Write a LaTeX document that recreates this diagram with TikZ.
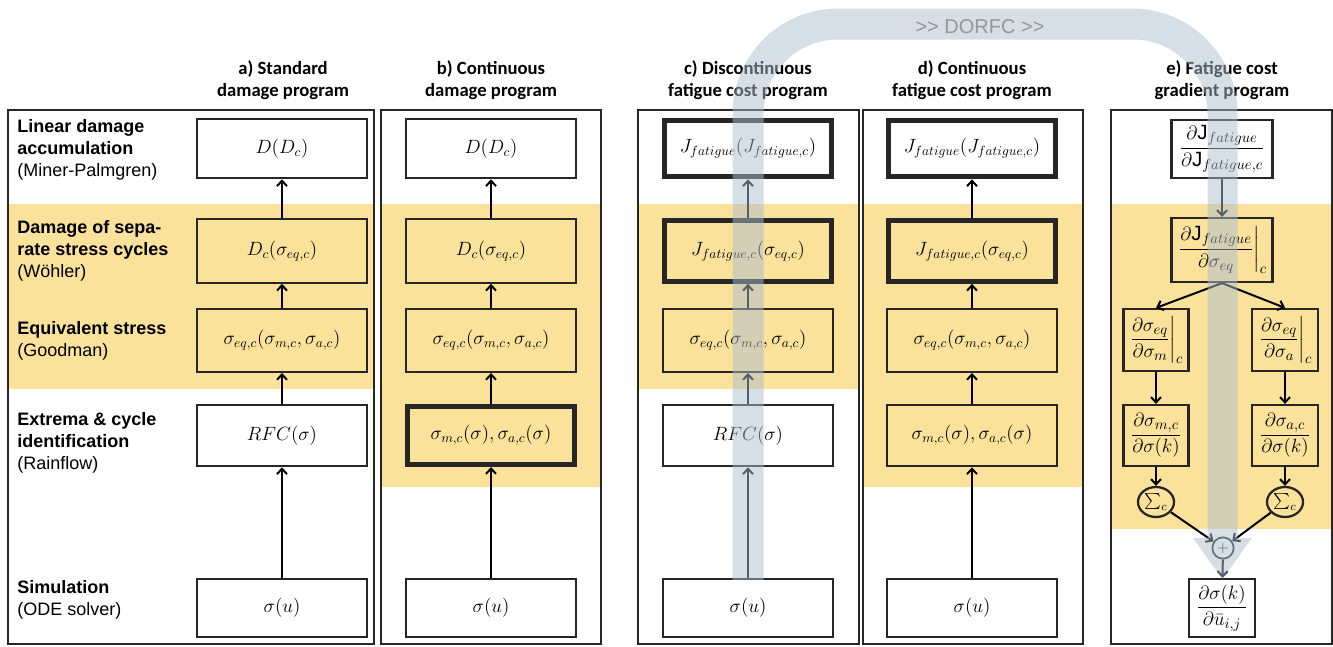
\documentclass[tikz,border=0pt]{standalone}
\usepackage{amsmath}
\usepackage{fontspec}
\setmainfont{Liberation Sans}
\newfontfamily\hdrfont{Carlito}
\usetikzlibrary{arrows.meta,shapes.geometric}
\definecolor{ylw}{RGB}{250,226,155}
\definecolor{bandc}{RGB}{173,189,205}
\definecolor{dorfcc}{RGB}{150,150,150}
\begin{document}
\begin{tikzpicture}[x=0.75pt,y=-0.75pt,
  frame/.style={draw=black!85, line width=1.1pt},
  bx/.style={draw=black!85, line width=1.7pt, inner sep=0pt, font=\fontsize{14}{17}\selectfont},
  bxt/.style={bx, line width=3.8pt},
  wa/.style={minimum width=127.5pt},
  wt/.style={minimum width=125pt},
  arr/.style={draw=black, line width=1.5pt, -{Straight Barb[length=4pt,width=7.5pt]}},
  hdr/.style={font=\hdrfont\bfseries\fontsize{14}{16.5}\selectfont, align=center},
  lbl/.style={font=\fontsize{13.5}{16.5}\selectfont, align=left, anchor=west, inner sep=0pt},
  fr/.style={bx, font=\fontsize{15.5}{18}\selectfont},
  sumnode/.style={bx, ellipse, inner sep=0pt, minimum width=27pt, minimum height=22.5pt, font=\fontsize{13}{15}\selectfont}
]
\useasboundingbox (0,0) rectangle (1333,646);
% yellow bands
\fill[ylw] (8,204) rectangle (374,389);
\fill[ylw] (381,204) rectangle (601,487);
\fill[ylw] (638,204) rectangle (859,389);
\fill[ylw] (863,204) rectangle (1083,487);
\fill[ylw] (1111,204) rectangle (1332,529);
% panel frames
\draw[frame] (8,110) rectangle (374,644);
\draw[frame] (381,110) rectangle (601,644);
\draw[frame] (638,110) rectangle (859,644);
\draw[frame] (863,110) rectangle (1083,644);
\draw[frame] (1111,110) rectangle (1332,644);
% headers
\node[hdr] (ha) at (283,80) {a) Standard\\damage program};
\node[hdr] (hb) at (491,80) {b) Continuous\\damage program};
\node[hdr] (hc) at (748,80) {c) Discontinuous\\fatigue cost program};
\node[hdr] (hd) at (972,80) {d) Continuous\\fatigue cost program};
\node[hdr] (he) at (1222,80) {e) Fatigue cost\\gradient program};
% left labels
\node[lbl] (l1) at (17,150) {\textbf{Linear damage}\\\textbf{accumulation}\\(Miner-Palmgren)};
\node[lbl] (l2) at (17,251) {\textbf{Damage of sepa-}\\\textbf{rate stress cycles}\\(Wöhler)};
\node[lbl] (l3) at (17,341) {\textbf{Equivalent stress}\\(Goodman)};
\node[lbl] (l4) at (17,443) {\textbf{Extrema \& cycle}\\\textbf{identification}\\(Rainflow)};
\node[lbl] (l5) at (17,600) {\textbf{Simulation}\\(ODE solver)};
% panel a
\node[bx,wa,minimum height=44.5pt] (aD) at (282,148.5) {$D(D_c)$};
\node[bx,wa,minimum height=47.5pt] (aDc) at (282,251) {$D_c(\sigma_{eq,c})$};
\node[bx,wa,minimum height=47pt] (aEq) at (282,340.5) {$\sigma_{eq,c}(\sigma_{m,c},\sigma_{a,c})$};
\node[bx,wa,minimum height=46pt] (aRFC) at (282,435.5) {$RFC(\sigma)$};
\node[bx,wa,minimum height=43.5pt] (aSig) at (282,608) {$\sigma(u)$};
\draw[arr] (aSig) -- (aRFC);
\draw[arr] (aRFC) -- (aEq);
\draw[arr] (aEq) -- (aDc);
\draw[arr] (aDc) -- (aD);
% panel b
\node[bx,wa,minimum height=44.5pt] (bD) at (491,148.5) {$D(D_c)$};
\node[bx,wa,minimum height=47.5pt] (bDc) at (491,251) {$D_c(\sigma_{eq,c})$};
\node[bx,wa,minimum height=47pt] (bEq) at (491,340.5) {$\sigma_{eq,c}(\sigma_{m,c},\sigma_{a,c})$};
\node[bxt,wt,minimum height=43.5pt] (bM) at (491,435.5) {$\sigma_{m,c}(\sigma),\sigma_{a,c}(\sigma)$};
\node[bx,wa,minimum height=43.5pt] (bSig) at (491,608) {$\sigma(u)$};
\draw[arr] (bSig) -- (bM);
\draw[arr] (bM) -- (bEq);
\draw[arr] (bEq) -- (bDc);
\draw[arr] (bDc) -- (bD);
% panel c
\node[bxt,wt,minimum height=42.5pt] (cJ) at (748,148.5) {$J_{fatigue}(J_{fatigue,c})$};
\node[bxt,wt,minimum height=45.5pt] (cJc) at (748,251) {$J_{fatigue,c}(\sigma_{eq,c})$};
\node[bx,wa,minimum height=47pt] (cEq) at (748,340.5) {$\sigma_{eq,c}(\sigma_{m,c},\sigma_{a,c})$};
\node[bx,wa,minimum height=46pt] (cRFC) at (748,435.5) {$RFC(\sigma)$};
\node[bx,wa,minimum height=43.5pt] (cSig) at (748,608) {$\sigma(u)$};
\draw[arr] (cSig) -- (cRFC);
\draw[arr] (cRFC) -- (cEq);
\draw[arr] (cEq) -- (cJc);
\draw[arr] (cJc) -- (cJ);
% panel d
\node[bxt,wt,minimum height=42.5pt] (dJ) at (972,148.5) {$J_{fatigue}(J_{fatigue,c})$};
\node[bxt,wt,minimum height=45.5pt] (dJc) at (972,251) {$J_{fatigue,c}(\sigma_{eq,c})$};
\node[bx,wa,minimum height=47pt] (dEq) at (972,340.5) {$\sigma_{eq,c}(\sigma_{m,c},\sigma_{a,c})$};
\node[bx,wa,minimum height=46pt] (dM) at (972,435.5) {$\sigma_{m,c}(\sigma),\sigma_{a,c}(\sigma)$};
\node[bx,wa,minimum height=43.5pt] (dSig) at (972,608) {$\sigma(u)$};
\draw[arr] (dSig) -- (dM);
\draw[arr] (dM) -- (dEq);
\draw[arr] (dEq) -- (dJc);
\draw[arr] (dJc) -- (dJ);
% panel e
\node[fr,minimum width=75.75pt,minimum height=43.5pt] (e1) at (1222,149) {$\dfrac{\partial \mathrm{J}_{fatigue}}{\partial \mathrm{J}_{fatigue,c}}$};
\node[fr,minimum width=75.75pt,minimum height=48pt] (e2) at (1222,250) {$\left.\dfrac{\partial \mathrm{J}_{fatigue}}{\partial \sigma_{eq}}\right|_c$};
\node[fr,minimum width=48.75pt,minimum height=46.5pt] (eL1) at (1156,340) {$\left.\dfrac{\partial \sigma_{eq}}{\partial \sigma_{m}}\right|_c$};
\node[fr,minimum width=49.5pt,minimum height=46.5pt] (eR1) at (1285,340) {$\left.\dfrac{\partial \sigma_{eq}}{\partial \sigma_{a}}\right|_c$};
\node[fr,minimum width=48.75pt,minimum height=45.75pt] (eL2) at (1156,435.5) {$\dfrac{\partial \sigma_{m,c}}{\partial \sigma(k)}$};
\node[fr,minimum width=49.5pt,minimum height=45.75pt] (eR2) at (1285,435.5) {$\dfrac{\partial \sigma_{a,c}}{\partial \sigma(k)}$};
\node[sumnode] (sL) at (1156,502) {$\sum_c$};
\node[sumnode] (sR) at (1285,502) {$\sum_c$};
\node[bx,circle,minimum size=16pt,line width=1.3pt,font=\fontsize{12}{12}\selectfont] (pl) at (1223,548) {$+$};
\node[fr,minimum width=49.5pt,minimum height=43.5pt] (e3) at (1222,608) {$\dfrac{\partial \sigma(k)}{\partial \bar{u}_{i,j}}$};
\coordinate (e2s) at (e2.south);
\draw[arr] (e1) -- (e2);
\draw[arr] (e2s) -- (eL1.north);
\draw[arr] (e2s) -- (eR1.north);
\draw[arr] (eL1) -- (eL2);
\draw[arr] (eR1) -- (eR2);
\draw[arr] (eL2) -- (sL);
\draw[arr] (eR2) -- (sR);
\draw[arr] (sL) -- (pl);
\draw[arr] (sR) -- (pl);
\draw[arr] (pl) -- (e3);
% DORFC band
\fill[bandc, opacity=0.5]
  (732.5,580) -- (732.5,114) arc[start angle=180, end angle=270, radius=105.5]
  -- (1132,8.5) arc[start angle=270, end angle=360, radius=105.5]
  -- (1237.5,538) -- (1252,538) -- (1222.5,579) -- (1193,538) -- (1207.5,538)
  -- (1207.5,114) arc[start angle=360, end angle=270, radius=74.5]
  -- (838,39.5) arc[start angle=270, end angle=180, radius=74.5]
  -- (763.5,580) -- cycle;
\node[font=\fontsize{15}{15}\selectfont, text=dorfcc] (dorfc) at (980,27) {>\kern0pt> DORFC >\kern0pt>};
\end{tikzpicture}
\end{document}
